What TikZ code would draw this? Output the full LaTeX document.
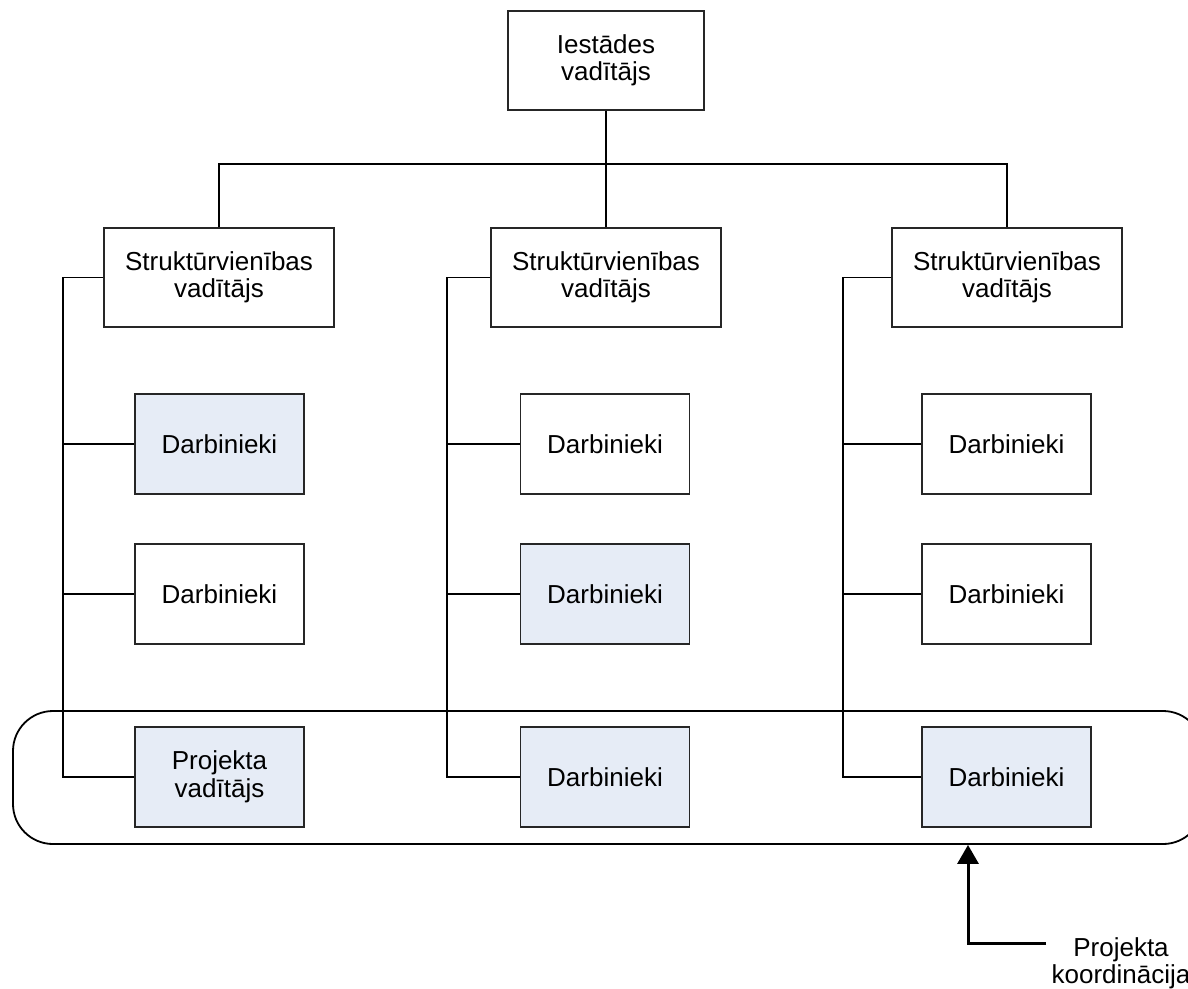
\documentclass[tikz,border=0pt]{standalone}
\usepackage{fontspec}
\setmainfont{Liberation Sans}
\usetikzlibrary{arrows.meta}
\definecolor{boxfill}{RGB}{230,236,246}
\begin{document}
\begin{tikzpicture}[x=1pt,y=-1pt,
  every node/.style={font=\fontsize{26}{27.5}\selectfont, align=center, inner sep=0pt},
  box/.style={draw=black!85, line width=1.2pt, fill=white},
  headbox/.style={box, minimum width=196pt, minimum height=99pt},
  unitbox/.style={box, minimum width=230pt, minimum height=99pt},
  staffbox/.style={box, minimum width=169pt, minimum height=100pt},
  hl/.style={fill=boxfill},
  link/.style={draw=black, line width=1.2pt},
  group/.style={draw=black, line width=1.8pt, rounded corners=40pt,
    minimum width=1190pt, minimum height=133pt},
  callout/.style={draw=black, line width=3pt, -{Triangle[length=19pt,width=21pt]}}
]
\useasboundingbox (0,0) rectangle (1188,988);
\clip (0,0) rectangle (1188,988);

% project group frame around the bottom row
\node[group] (grp) at (608,777.5) {};

% head of the institution and unit heads
\node[headbox] (head) at (606,60.5) {Iestādes\\vadītājs};
\node[unitbox] (u1) at (219,277.5) {Struktūrvienības\\vadītājs};
\node[unitbox] (u2) at (606,277.5) {Struktūrvienības\\vadītājs};
\node[unitbox] (u3) at (1007,277.5) {Struktūrvienības\\vadītājs};

% staff boxes
\node[staffbox,hl] (s11) at (219.5,444) {Darbinieki};
\node[staffbox]    (s12) at (219.5,594) {Darbinieki};
\node[staffbox,hl] (s13) at (219.5,777) {Projekta\\vadītājs};
\node[staffbox]    (s21) at (605,444) {Darbinieki};
\node[staffbox,hl] (s22) at (605,594) {Darbinieki};
\node[staffbox,hl] (s23) at (605,777) {Darbinieki};
\node[staffbox]    (s31) at (1006.5,444) {Darbinieki};
\node[staffbox]    (s32) at (1006.5,594) {Darbinieki};
\node[staffbox,hl] (s33) at (1006.5,777) {Darbinieki};

% top-level connectors
\coordinate (hbar) at (606,164);
\draw[link] (head.south) -- (u2.north);
\draw[link] (u1.north) |- (hbar) -| (u3.north);

% unit buses down the left side of each column
\coordinate (bus1) at (63,777);
\coordinate (bus2) at (447,777);
\coordinate (bus3) at (843,777);
\foreach \c in {1,2,3}{
  \draw[link] (u\c.west) -| (bus\c) -- (s\c3.west);
  \draw[link] (s\c1.west) -- (s\c1.west -| bus\c);
  \draw[link] (s\c2.west) -- (s\c2.west -| bus\c);
}

% project coordination callout
\node[anchor=north] (lbl) at (1121,937) {Projekta\\koordinācija};
\coordinate (cstart) at (1046,943);
\coordinate (cbend) at (968,943);
\draw[callout] (cstart) -- (cbend) -- (cbend |- grp.south);
\end{tikzpicture}
\end{document}
